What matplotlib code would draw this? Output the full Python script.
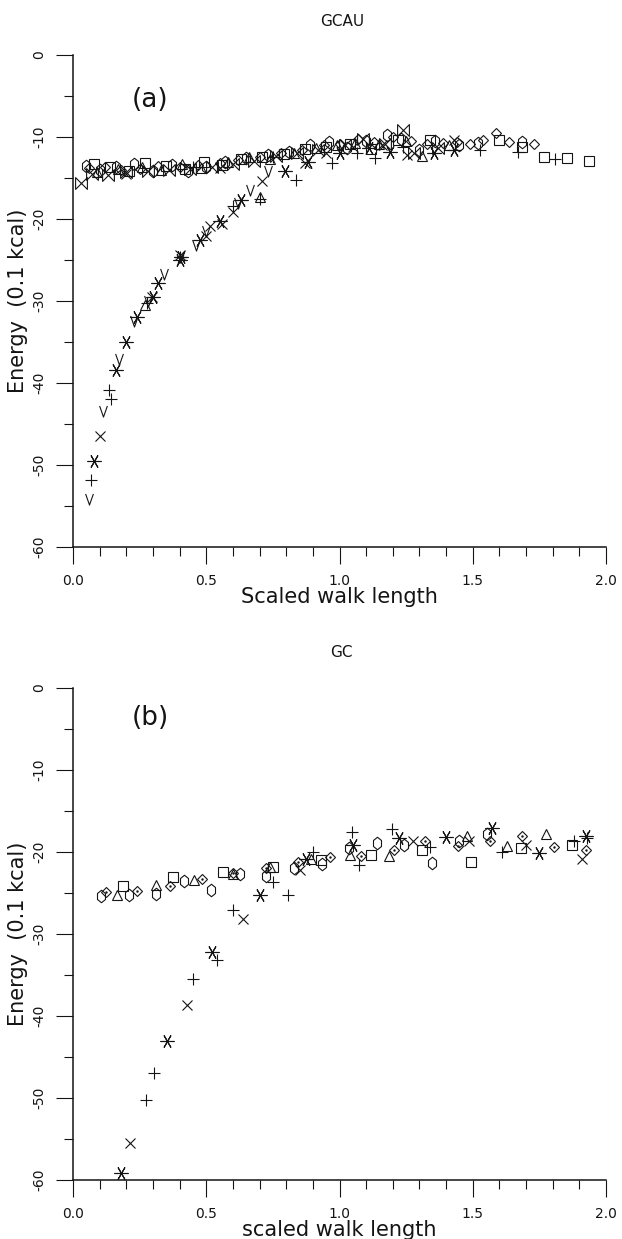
import matplotlib
matplotlib.use('Agg')
import matplotlib.pyplot as plt
from matplotlib.path import Path
from matplotlib.ticker import MultipleLocator

# ---- panel (a) GCAU ----
a_dia_x = [0.06, 0.12, 0.18, 0.25, 0.32, 0.40, 0.47, 0.55, 0.62, 0.70, 0.78, 0.86, 0.94, 1.00, 1.07,
           1.13, 1.20, 1.27, 1.33, 1.39, 1.44, 1.49, 1.54, 1.586, 1.635, 1.73]
a_dia_y = [-13.8, -13.6, -14.0, -13.9, -13.5, -13.7, -13.4, -13.2, -12.8, -12.4, -12.0, -11.6, -11.0, -10.8, -10.3,
           -10.6, -10.0, -10.5, -10.9, -10.7, -10.6, -10.8, -10.4, -9.5, -10.6, -10.9]
a_oct_x = [0.05, 0.10, 0.16, 0.23, 0.30, 0.37, 0.43, 0.50, 0.57, 0.65, 0.73, 0.81, 0.89, 0.96, 1.03,
           1.10, 1.18, 1.23, 1.30, 1.36, 1.45, 1.52, 1.683]
a_oct_y = [-13.5, -14.0, -13.7, -13.3, -14.1, -13.4, -14.2, -13.6, -13.0, -12.6, -12.2, -11.8, -11.0, -10.6, -11.3,
           -10.5, -9.8, -10.3, -11.6, -10.5, -11.0, -10.7, -10.6]
a_sq_x = [0.08, 0.14, 0.21, 0.27, 0.35, 0.42, 0.49, 0.56, 0.63, 0.71, 0.79, 0.87, 0.95, 1.04, 1.12,
          1.22, 1.34, 1.60, 1.683, 1.767, 1.852, 1.937]
a_sq_y = [-13.3, -13.6, -14.2, -13.2, -13.5, -13.9, -13.1, -13.4, -12.7, -12.5, -12.1, -11.5, -11.2, -10.9, -11.5,
          -10.4, -10.4, -10.4, -11.2, -12.4, -12.6, -12.9]
a_tri_x = [0.09, 0.17, 0.26, 0.27, 0.33, 0.41, 0.48, 0.58, 0.66, 0.70, 0.74, 0.83, 0.91, 0.99, 1.06,
           1.15, 1.25, 1.31, 1.41]
a_tri_y = [-14.3, -13.9, -13.6, -30.5, -14.0, -13.3, -13.8, -13.1, -12.4, -17.3, -12.7, -11.9, -11.4, -11.0, -10.7,
           -10.9, -10.5, -12.3, -11.0]
a_bow_x = [0.03, 0.07, 0.13, 0.20, 0.28, 0.36, 0.44, 0.52, 0.60, 0.68, 0.76, 0.84, 0.92, 1.02, 1.09,
           1.17, 1.24, 1.28, 1.37]
a_bow_y = [-15.6, -14.5, -14.6, -14.3, -14.2, -14.0, -13.9, -13.6, -13.3, -12.9, -12.3, -12.0, -11.6, -11.0, -10.2,
           -10.8, -9.2, -12.0, -11.4]
a_plus_x = [0.068, 0.135, 0.142, 0.277, 0.40, 0.45, 0.60, 0.70, 0.75, 0.835, 0.972, 1.066, 1.135, 1.24,
            1.528, 1.668, 1.808]
a_plus_y = [-51.8, -40.9, -41.9, -30.3, -24.6, -13.6, -18.4, -17.6, -12.5, -15.2, -13.2, -12.0, -12.6, -11.2,
            -11.6, -11.8, -12.7]
a_x_x = [0.10, 0.20, 0.296, 0.40, 0.499, 0.515, 0.55, 0.56, 0.60, 0.709, 0.872, 0.95, 1.05, 1.16, 1.254, 1.43]
a_x_y = [-46.5, -14.5, -29.5, -24.4, -22.1, -20.8, -13.8, -20.6, -19.1, -15.4, -13.2, -12.0, -11.2, -11.0, -12.2, -10.4]
a_ast_x = [0.08, 0.162, 0.20, 0.24, 0.30, 0.318, 0.40, 0.405, 0.477, 0.553, 0.632, 0.797, 0.88, 1.00,
           1.11, 1.19, 1.354, 1.43]
a_ast_y = [-49.5, -38.4, -35.0, -32.0, -29.5, -27.8, -25.0, -24.6, -22.6, -20.2, -17.7, -14.2, -13.0, -12.0,
           -11.4, -11.8, -12.0, -11.6]
a_v_x = [0.06, 0.114, 0.173, 0.23, 0.28, 0.34, 0.46, 0.50, 0.62, 0.665, 0.733]
a_v_y = [-54.1, -43.4, -37.1, -32.5, -30.0, -26.7, -23.2, -21.5, -18.0, -16.5, -14.2]

# ---- panel (b) GC ----
b_oct_x = [0.105, 0.21, 0.312, 0.416, 0.519, 0.625, 0.725, 0.831, 0.934, 1.035, 1.14, 1.243, 1.347, 1.45, 1.553]
b_oct_y = [-25.4, -25.3, -25.1, -23.5, -24.6, -22.7, -22.9, -21.9, -21.5, -19.5, -18.9, -19.1, -21.3, -18.7, -17.8]
b_dia_x = [0.122, 0.242, 0.363, 0.484, 0.60, 0.723, 0.844, 0.963, 1.08, 1.203, 1.322, 1.443, 1.564, 1.684,
           1.805, 1.926]
b_dia_y = [-24.9, -24.7, -24.2, -23.3, -22.5, -21.9, -21.2, -20.6, -20.5, -19.8, -18.7, -19.3, -18.7, -18.0,
           -19.4, -19.8]
b_tri_x = [0.164, 0.31, 0.454, 0.60, 0.738, 0.894, 1.04, 1.187, 1.48, 1.63, 1.776]
b_tri_y = [-25.2, -24.0, -23.4, -22.7, -21.8, -20.9, -20.4, -20.5, -18.0, -19.3, -17.8]
b_sq_x = [0.189, 0.376, 0.561, 0.75, 0.93, 1.12, 1.308, 1.495, 1.68, 1.871]
b_sq_y = [-24.2, -23.1, -22.4, -21.8, -21.0, -20.4, -19.8, -21.2, -19.5, -19.1]
b_plus_x = [0.273, 0.303, 0.45, 0.54, 0.60, 0.75, 0.806, 0.90, 1.047, 1.075, 1.197, 1.34, 1.608, 1.88, 1.93]
b_plus_y = [-50.2, -47.0, -35.5, -33.2, -27.1, -23.6, -25.2, -20.0, -17.5, -21.6, -17.2, -19.4, -20.0, -18.7, -18.3]
b_x_x = [0.213, 0.428, 0.638, 0.85, 1.275, 1.487, 1.70, 1.91]
b_x_y = [-55.5, -38.7, -28.2, -22.2, -18.7, -18.7, -19.1, -20.8]
b_ast_x = [0.18, 0.353, 0.523, 0.70, 0.875, 1.05, 1.222, 1.40, 1.574, 1.749, 1.924]
b_ast_y = [-59.1, -43.1, -32.2, -25.2, -20.8, -19.1, -18.3, -18.2, -17.1, -20.1, -18.0]

# custom marker shapes
bowtie = Path([(-1, 1), (1, -1), (1, 1), (-1, -1), (-1, 1)],
              [Path.MOVETO, Path.LINETO, Path.LINETO, Path.LINETO, Path.CLOSEPOLY])
hexa = Path([(0, 1.25), (0.8, 0.6), (0.8, -0.6), (0, -1.25), (-0.8, -0.6), (-0.8, 0.6), (0, 1.25)],
            [Path.MOVETO] + [Path.LINETO] * 5 + [Path.CLOSEPOLY])
vee = Path([(-0.7, 1), (0, -1), (0.7, 1)], [Path.MOVETO, Path.LINETO, Path.LINETO])
aster = (6, 2, 90)

ink = '#141414'
plt.rcParams['font.family'] = ['DejaVu Sans']

fig = plt.figure(figsize=(6.22, 12.39), dpi=100)
ax_a = fig.add_axes([73 / 622, 1 - 547 / 1239, 533 / 622, 492 / 1239])
ax_b = fig.add_axes([73 / 622, 1 - 1180 / 1239, 533 / 622, 492 / 1239])


def pts(ax, x, y, marker, ms, lw=0.8):
    ax.plot(x, y, linestyle='none', marker=marker, markersize=ms, markerfacecolor='none',
            markeredgecolor=ink, markeredgewidth=lw, clip_on=False)


def style(ax, xlabel):
    ax.set_xlim(0, 2.0)
    ax.set_ylim(-60, 0)
    for s in ['top', 'right']:
        ax.spines[s].set_visible(False)
    for s in ['left', 'bottom']:
        ax.spines[s].set_linewidth(1.1)
        ax.spines[s].set_color(ink)
    ax.xaxis.set_major_locator(MultipleLocator(0.5))
    ax.xaxis.set_minor_locator(MultipleLocator(0.1))
    ax.yaxis.set_major_locator(MultipleLocator(10))
    ax.yaxis.set_minor_locator(MultipleLocator(5))
    ax.xaxis.set_major_formatter(lambda v, p: f'{v:.1f}')
    ax.yaxis.set_major_formatter(lambda v, p: f'{v:.0f}')
    ax.tick_params(which='major', direction='out', length=12.5, width=0.8, color=ink,
                   labelsize=10, pad=7, labelcolor=ink)
    ax.tick_params(which='minor', direction='out', length=6.5, width=0.8, color=ink)
    for t in ax.get_yticklabels():
        t.set_rotation(90)
        t.set_va('center')
    ax.set_xlabel(xlabel, fontsize=15, labelpad=-1, color=ink)
    ax.set_ylabel('Energy  (0.1 kcal)', fontsize=15, labelpad=3, color=ink)


# panel (a)
pts(ax_a, a_dia_x, a_dia_y, 'D', 5.5)
pts(ax_a, a_oct_x, a_oct_y, hexa, 9)
pts(ax_a, a_sq_x, a_sq_y, 's', 6.5)
pts(ax_a, a_tri_x, a_tri_y, '^', 7)
pts(ax_a, a_bow_x, a_bow_y, bowtie, 8.5)
pts(ax_a, a_plus_x, a_plus_y, '+', 8.5)
pts(ax_a, a_x_x, a_x_y, 'x', 7.5)
pts(ax_a, a_ast_x, a_ast_y, aster, 10)
pts(ax_a, a_v_x, a_v_y, vee, 8)
style(ax_a, 'Scaled walk length')
ax_a.text((132 - 73) / 533, 1 - 45 / 492, '(a)', transform=ax_a.transAxes,
          fontsize=19, ha='left', va='center', color=ink)

# panel (b)
pts(ax_b, b_oct_x, b_oct_y, hexa, 9)
pts(ax_b, b_dia_x, b_dia_y, 'D', 5)
ax_b.plot(b_dia_x, b_dia_y, linestyle='none', marker='.', markersize=1.5, color=ink)
pts(ax_b, b_tri_x, b_tri_y, '^', 6.5)
pts(ax_b, b_sq_x, b_sq_y, 's', 6.5)
pts(ax_b, b_plus_x, b_plus_y, '+', 9)
pts(ax_b, b_x_x, b_x_y, 'x', 7)
pts(ax_b, b_ast_x, b_ast_y, aster, 10)
style(ax_b, 'scaled walk length')
ax_b.text((132 - 73) / 533, 1 - 30 / 492, '(b)', transform=ax_b.transAxes,
          fontsize=19, ha='left', va='center', color=ink)

fig.text(342 / 622, 1 - 22 / 1239, 'GCAU', ha='center', va='center', fontsize=11, color=ink)
fig.text(341 / 622, 1 - 652 / 1239, 'GC', ha='center', va='center', fontsize=11, color=ink)

fig.savefig('out.png', dpi=100)
